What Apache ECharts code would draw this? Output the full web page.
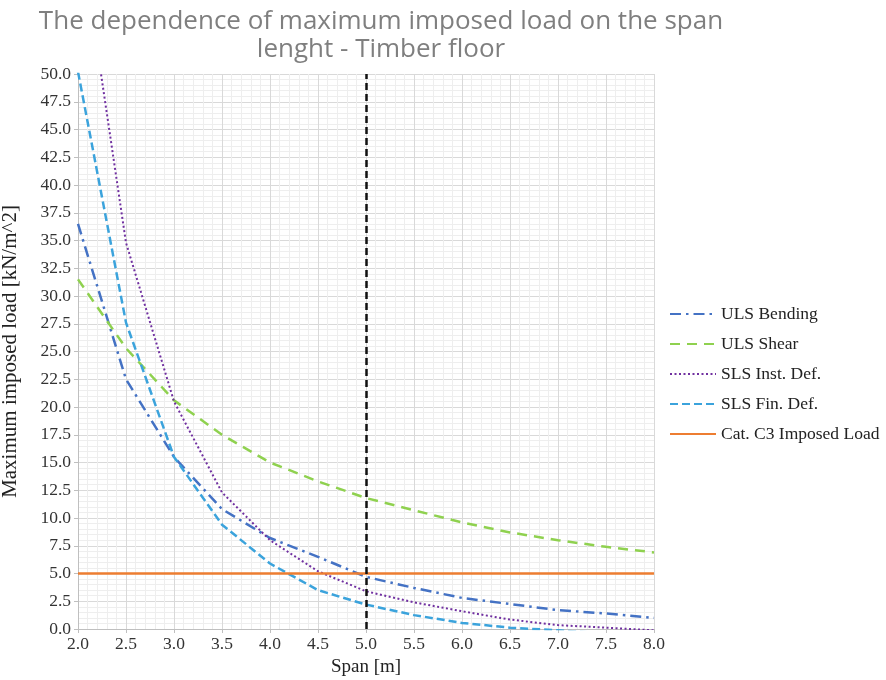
<!DOCTYPE html>
<html>
<head>
<meta charset="utf-8">
<script src="https://cdn.jsdelivr.net/npm/echarts@6/dist/echarts.min.js"></script>
<style>
  html, body { margin: 0; padding: 0; background: #fff; }
  #main { width: 886px; height: 680px; }
</style>
</head>
<body>
<div id="main"></div>
<script>
// span values [m]
var spans = [2.0, 2.5, 3.0, 3.5, 4.0, 4.5, 5.0, 5.5, 6.0, 6.5, 7.0, 7.5, 8.0];
// maximum imposed load [kN/m^2]
var ulsBending = [36.5, 22.5, 15.5, 10.8, 8.2, 6.5, 4.7, 3.7, 2.8, 2.25, 1.7, 1.4, 1.0];
var ulsShear   = [31.5, 25.3, 20.6, 17.5, 15.0, 13.3, 11.8, 10.7, 9.6, 8.7, 8.0, 7.4, 6.9];
var slsInst    = [64.0, 34.8, 20.5, 12.3, 8.0, 5.2, 3.4, 2.4, 1.6, 0.85, 0.35, 0.12, -0.12];
var slsFin     = [50.2, 27.6, 15.5, 9.4, 5.9, 3.5, 2.2, 1.25, 0.55, 0.12, -0.12, -0.4, -0.6];
var catC3      = [5, 5, 5, 5, 5, 5, 5, 5, 5, 5, 5, 5, 5];
var designSpan = 5.0;

var xTickLabels = ['2.0','2.5','3.0','3.5','4.0','4.5','5.0','5.5','6.0','6.5','7.0','7.5','8.0'];

function pairs(ys) {
    var out = [];
    for (var i = 0; i < spans.length; i++) {
        out.push([spans[i], ys[i]]);
    }
    return out;
}

var serif = '"Liberation Serif", "DejaVu Serif", serif';

var myChart = echarts.init(document.getElementById('main'));
var option = {
    backgroundColor: '#fff',
    animation: false,
    title: {
        text: 'The dependence of maximum imposed load on the span\nlenght - Timber floor',
        left: 376,
        top: 3,
        textAlign: 'center',
        textStyle: {
            fontFamily: '"Open Sans", sans-serif',
            fontWeight: 'normal',
            fontSize: 26,
            lineHeight: 28,
            color: '#7f7f7f'
        }
    },
    legend: {
        orient: 'vertical',
        left: 664,
        top: 300,
        itemGap: 12,
        itemWidth: 46,
        itemHeight: 18,
        itemStyle: { opacity: 0 },
        textStyle: { fontFamily: serif, fontSize: 17.5, color: '#222' },
        data: ['ULS Bending', 'ULS Shear', 'SLS Inst. Def.', 'SLS Fin. Def.', 'Cat. C3 Imposed Load']
    },
    grid: { left: 78, right: 232, top: 74, bottom: 51, outerBoundsMode: 'none', containLabel: false },
    xAxis: {
        type: 'value',
        min: 2,
        max: 8,
        interval: 0.5,
        name: 'Span [m]',
        nameLocation: 'middle',
        nameGap: 29,
        nameTextStyle: { fontFamily: serif, fontSize: 19, color: '#222' },
        axisLine: { lineStyle: { color: '#bfbfbf' } },
        axisTick: { show: true, length: 4, lineStyle: { color: '#bfbfbf' } },
        axisLabel: {
            fontFamily: serif, fontSize: 17.5, color: '#333', margin: 6,
            formatter: function (v) {
                var i = Math.round((v - spans[0]) / 0.5);
                return xTickLabels[i] !== undefined ? xTickLabels[i] : v.toFixed(1);
            }
        },
        splitLine: { show: true, lineStyle: { color: '#d9d9d9', width: 1 } },
        minorTick: { show: false, splitNumber: 5 },
        minorSplitLine: { show: true, lineStyle: { color: '#eeeeee', width: 1 } }
    },
    yAxis: {
        type: 'value',
        min: 0,
        max: 50,
        interval: 2.5,
        name: 'Maximum imposed load [kN/m^2]',
        nameLocation: 'middle',
        nameGap: 57,
        nameTextStyle: { fontFamily: serif, fontSize: 21, color: '#222' },
        axisLine: { show: true, lineStyle: { color: '#bfbfbf' } },
        axisTick: { show: true, length: 4, lineStyle: { color: '#bfbfbf' } },
        axisLabel: {
            fontFamily: serif, fontSize: 17.5, color: '#333', margin: 7,
            formatter: function (v) { return v.toFixed(1); }
        },
        splitLine: { show: true, lineStyle: { color: '#d9d9d9', width: 1 } },
        minorTick: { show: false, splitNumber: 5 },
        minorSplitLine: { show: true, lineStyle: { color: '#eeeeee', width: 1 } }
    },
    series: [
        {
            name: 'ULS Bending',
            type: 'line',
            symbol: 'none',
            data: pairs(ulsBending),
            lineStyle: { color: '#4472c4', width: 2.5, type: [11, 5, 2.5, 5] },
            itemStyle: { color: '#4472c4' }
        },
        {
            name: 'ULS Shear',
            type: 'line',
            symbol: 'none',
            data: pairs(ulsShear),
            lineStyle: { color: '#8fd14f', width: 2.5, type: [10, 7] },
            itemStyle: { color: '#8fd14f' }
        },
        {
            name: 'SLS Inst. Def.',
            type: 'line',
            symbol: 'none',
            data: pairs(slsInst),
            lineStyle: { color: '#7030a0', width: 2, type: [2, 2.5] },
            itemStyle: { color: '#7030a0' }
        },
        {
            name: 'SLS Fin. Def.',
            type: 'line',
            symbol: 'none',
            data: pairs(slsFin),
            lineStyle: { color: '#3ba3dc', width: 2.5, type: [8, 4] },
            itemStyle: { color: '#3ba3dc' }
        },
        {
            name: 'Cat. C3 Imposed Load',
            type: 'line',
            symbol: 'none',
            data: pairs(catC3),
            lineStyle: { color: '#ed7d31', width: 2.5, type: 'solid' },
            itemStyle: { color: '#ed7d31' },
            markLine: {
                silent: true,
                symbol: 'none',
                label: { show: false },
                lineStyle: { color: '#111', width: 2.5, type: [7, 4] },
                data: [{ xAxis: designSpan }]
            }
        }
    ]
};
myChart.setOption(option);
</script>
</body>
</html>
